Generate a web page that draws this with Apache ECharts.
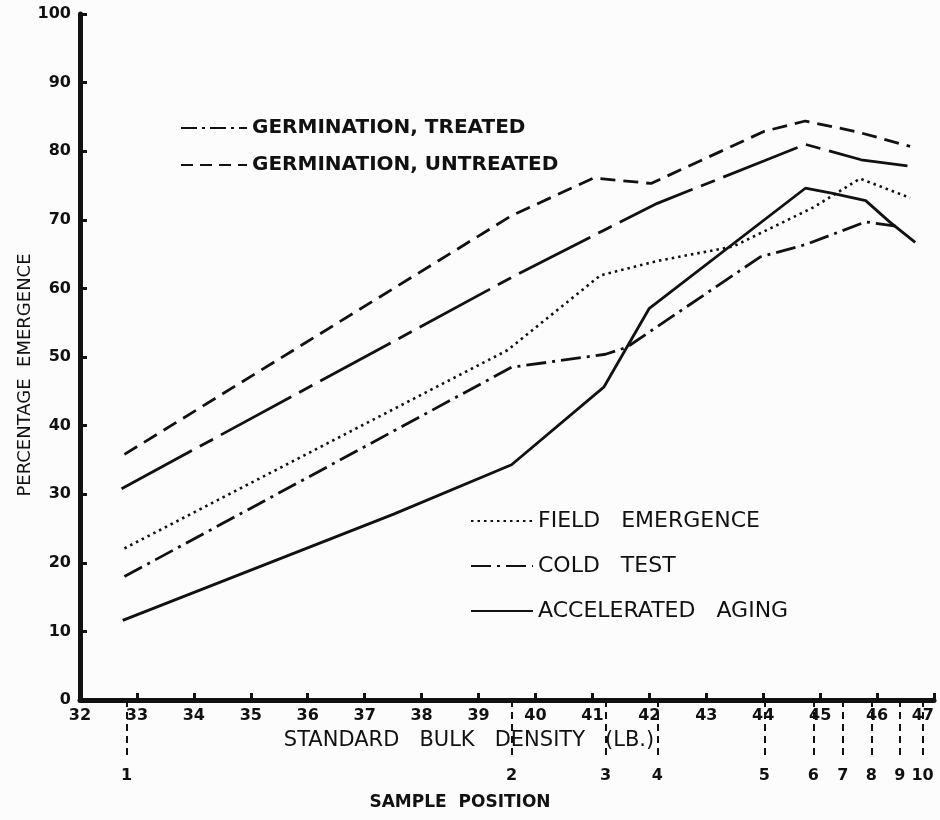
<!DOCTYPE html>
<html>
<head>
<meta charset="utf-8">
<script src="https://cdn.jsdelivr.net/npm/echarts@6/dist/echarts.min.js"></script>
<style>
html,body{margin:0;padding:0;background:#fcfcfc;overflow:hidden;}
#chart{width:940px;height:820px;}
</style>
</head>
<body>
<div id="chart"></div>
<script>
// ---- data ----
const samplePositions = [32.82, 39.58, 41.23, 42.14, 44.02, 44.88, 45.4, 45.9, 46.4, 46.8];
const sampleLabels = ['1','2','3','4','5','6','7','8','9','10'];

const untreatedX = [32.78, 39.58, 41.02, 42.03, 44.02, 44.74, 45.66, 46.58];
const untreatedY = [35.8, 70.6, 76.1, 75.3, 82.9, 84.4, 82.8, 80.7];

const treatedX = [32.73, 39.58, 41.23, 42.14, 44.02, 44.74, 45.72, 46.58];
const treatedY = [30.8, 61.6, 68.6, 72.4, 78.6, 81.0, 78.75, 77.8];

const fieldX = [32.78, 39.51, 41.14, 42.14, 43.47, 44.88, 45.7, 46.58];
const fieldY = [22.1, 51.0, 61.9, 64.0, 66.1, 71.8, 76.0, 73.2];

const coldX = [32.78, 39.58, 41.23, 41.6, 43.95, 44.75, 45.8, 46.4];
const coldY = [18.0, 48.5, 50.4, 51.4, 64.6, 66.4, 69.7, 69.0];

const agingX = [32.75, 37.51, 39.58, 41.2, 42.0, 44.74, 45.2, 45.8, 46.22, 46.67];
const agingY = [11.6, 27.1, 34.3, 45.6, 57.1, 74.6, 73.9, 72.8, 69.7, 66.7];

const names = {
  treated: 'GERMINATION, TREATED',
  untreated: 'GERMINATION, UNTREATED',
  field: 'FIELD   EMERGENCE',
  cold: 'COLD   TEST',
  aging: 'ACCELERATED   AGING'
};

// ---- chart ----
const ink = '#111';
const font = 'DejaVu Sans';
const zip = (xs, ys) => xs.map((x, i) => [x, ys[i]]);

function lineSeries(name, xs, ys, type, width) {
  return {
    name: name,
    type: 'line',
    data: zip(xs, ys),
    symbol: 'none',
    showSymbol: false,
    smooth: false,
    clip: false,
    silent: true,
    lineStyle: { color: ink, width: width, type: type, cap: 'butt' },
    itemStyle: { color: ink }
  };
}

const chart = echarts.init(document.getElementById('chart'), null, { renderer: 'canvas', width: 940, height: 820 });
chart.setOption({
  backgroundColor: '#fcfcfc',
  animation: false,
  textStyle: { fontFamily: font, color: ink },
  grid: { left: 80, width: 854, top: 14, height: 686, containLabel: false, outerBoundsMode: 'none' },
  legend: [
    {
      data: [
        { name: names.treated, lineStyle: { type: [16, 5, 3, 5] } },
        { name: names.untreated, lineStyle: { type: [12, 7] } }
      ],
      orient: 'vertical',
      left: 180, top: 118, padding: 0,
      itemWidth: 66, itemHeight: 14, itemGap: 17,
      itemStyle: { opacity: 0 },
      textStyle: { fontFamily: font, fontSize: 20, lineHeight: 20, fontWeight: 'bold', color: ink },
      selectedMode: false
    },
    {
      data: [names.field, names.cold, names.aging],
      orient: 'vertical',
      left: 470, top: 510, padding: 0,
      itemWidth: 62, itemHeight: 14, itemGap: 23,
      itemStyle: { opacity: 0 },
      textStyle: { fontFamily: font, fontSize: 22, lineHeight: 22, color: ink },
      selectedMode: false
    }
  ],
  xAxis: [
    {
      type: 'value', min: 32, max: 47, interval: 1,
      name: 'STANDARD   BULK   DENSITY   (LB.)',
      nameLocation: 'middle', nameGap: 30, nameMoveOverlap: false,
      nameTextStyle: { fontFamily: font, fontSize: 21, color: ink, padding: [0, 76, 0, 0] },
      axisLine: { show: true, onZero: false, lineStyle: { color: ink, width: 5 } },
      axisTick: { show: true, inside: true, length: 7, lineStyle: { color: ink, width: 3 } },
      axisLabel: { fontFamily: font, fontSize: 16, fontWeight: 'bold', color: ink, margin: 8,
                   alignMaxLabel: 'right' },
      splitLine: { show: false }
    },
    {
      type: 'value', min: 32, max: 47, position: 'bottom', offset: 5,
      name: 'SAMPLE  POSITION',
      nameLocation: 'middle', nameGap: 89, nameMoveOverlap: false,
      nameTextStyle: { fontFamily: font, fontSize: 17, fontWeight: 'bold', color: ink, padding: [0, 94, 0, 0] },
      axisLine: { show: false },
      axisTick: { show: true, inside: false, length: 60, customValues: samplePositions,
                  lineStyle: { color: ink, width: 2, type: [7, 5] } },
      axisLabel: { show: true, customValues: samplePositions, fontFamily: font, fontSize: 16,
                   fontWeight: 'bold', color: ink, margin: 63,
                   formatter: function (v) {
                     const i = samplePositions.findIndex(p => Math.abs(p - v) < 1e-6);
                     return i >= 0 ? sampleLabels[i] : '';
                   } },
      splitLine: { show: false }
    }
  ],
  yAxis: {
    type: 'value', min: 0, max: 100, interval: 10,
    name: 'PERCENTAGE  EMERGENCE',
    nameLocation: 'middle', nameGap: 46, nameRotate: 90, nameMoveOverlap: false,
    nameTextStyle: { fontFamily: font, fontSize: 18, color: ink, padding: [0, 36, 0, 0] },
    axisLine: { show: true, lineStyle: { color: ink, width: 5 } },
    axisTick: { show: true, inside: true, length: 7, lineStyle: { color: ink, width: 3 } },
    axisLabel: { fontFamily: font, fontSize: 16, fontWeight: 'bold', color: ink, margin: 9 },
    splitLine: { show: false }
  },
  series: [
    lineSeries(names.treated, treatedX, treatedY, [80, 9, 15, 9], 2.8),
    lineSeries(names.untreated, untreatedX, untreatedY, [15, 8], 2.8),
    lineSeries(names.field, fieldX, fieldY, [2.5, 4], 2.6),
    lineSeries(names.cold, coldX, coldY, [20, 6, 3, 6], 2.8),
    lineSeries(names.aging, agingX, agingY, 'solid', 2.8)
  ]
});
</script>
</body>
</html>
